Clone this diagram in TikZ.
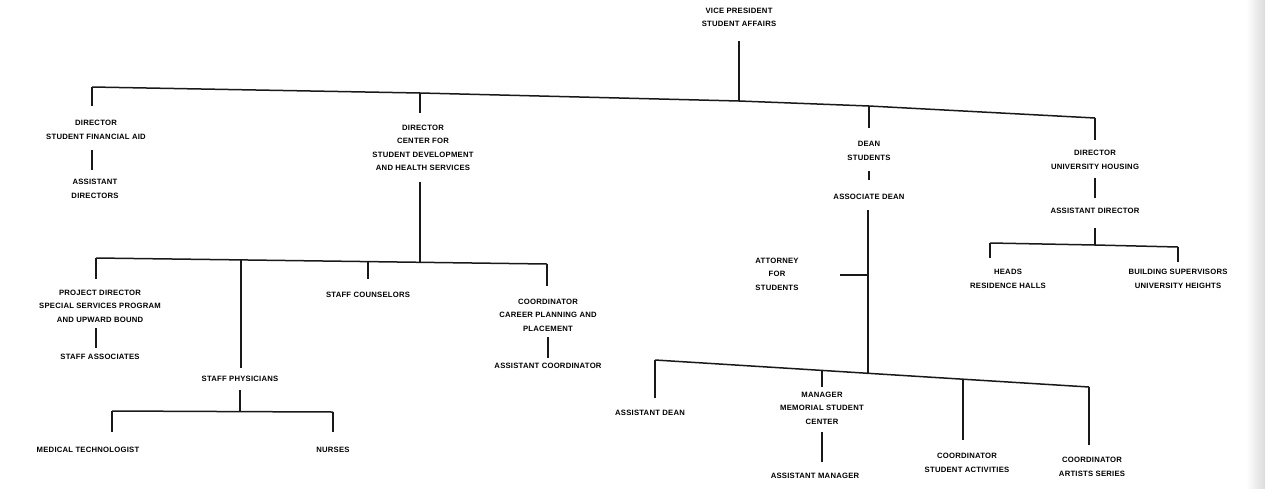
\documentclass[tikz,border=0pt]{standalone}
\usepackage{fontspec}
\setmainfont{Liberation Sans}
\newfontfamily\orgfont[LetterSpace=3]{Liberation Sans}
\begin{document}
\begin{tikzpicture}[x=1pt,y=-1pt,
  lbl/.style={font=\orgfont\bfseries\fontsize{7.7}{13.5}\selectfont, align=center, inner sep=0pt, text=black},
  wire/.style={line width=1.5pt, draw=black!90}]
\useasboundingbox (0,0) rectangle (1265,488);
\fill[white] (0,0) rectangle (1265,488);
% darkened paper edge on the right
\shade[left color=white, right color=black!14] (1246,0) rectangle (1265,488);

% ---------- top level ----------
\node[lbl] (vp) at (739,17.5) {VICE PRESIDENT\\STUDENT AFFAIRS};
\coordinate (tA) at (92,87);
\coordinate (tB) at (420,93);
\coordinate (tV) at (739,101);
\coordinate (tD) at (869,106);
\coordinate (tH) at (1095,118);
\draw[wire] (tA) -- (tB) -- (tV) -- (tD) -- (tH);
\draw[wire, shorten >=14pt] (tV) -- (tV |- vp.south);

% ---------- financial aid ----------
\node[lbl] (finaid) at (96,130) {DIRECTOR\\STUDENT FINANCIAL AID};
\node[lbl] (asstdirs) at (95,189) {ASSISTANT\\DIRECTORS};
\draw[wire, shorten >=14.5pt] (tA) -- (tA |- finaid.north);
\draw[wire, shorten <=10.5pt, shorten >=9.5pt] (finaid.south -| tA) -- (asstdirs.north -| tA);

% ---------- student development ----------
\node[lbl] (devel) at (423,148) {DIRECTOR\\CENTER FOR\\STUDENT DEVELOPMENT\\AND HEALTH SERVICES};
\draw[wire, shorten >=11.5pt] (tB) -- (tB |- devel.north);
\coordinate (mA) at (96,258);
\coordinate (mP) at (241,259.9);
\coordinate (mC) at (368,261.6);
\coordinate (mB) at (420,262.3);
\coordinate (mK) at (547,264);
\draw[wire] (mA) -- (mP) -- (mC) -- (mB) -- (mK);
\draw[wire, shorten <=10.5pt] (devel.south -| mB) -- (mB);

\node[lbl] (project) at (100,306) {PROJECT DIRECTOR\\SPECIAL SERVICES PROGRAM\\AND UPWARD BOUND};
\node[lbl] (staffassoc) at (100,357) {STAFF ASSOCIATES};
\draw[wire, shorten >=10.5pt] (mA) -- (mA |- project.north);
\draw[wire, shorten <=5.5pt, shorten >=6.5pt] (project.south -| mA) -- (staffassoc.north -| mA);

\node[lbl] (physicians) at (240,379) {STAFF PHYSICIANS};
\draw[wire, shorten >=8.5pt] (mP) -- (mP |- physicians.north);
\coordinate (pA) at (112,411);
\coordinate (pP) at (240,411.6);
\coordinate (pB) at (333,412);
\draw[wire] (pA) -- (pP) -- (pB);
\draw[wire, shorten <=8.5pt] (physicians.south -| pP) -- (pP);
\node[lbl] (medtech) at (88,450) {MEDICAL TECHNOLOGIST};
\node[lbl] (nurses) at (333,450) {NURSES};
\draw[wire, shorten >=15.5pt] (pA) -- (pA |- medtech.north);
\draw[wire, shorten >=15.5pt] (pB) -- (pB |- nurses.north);

\node[lbl] (counsel) at (368,295) {STAFF COUNSELORS};
\draw[wire, shorten >=13.5pt] (mC) -- (mC |- counsel.north);

\node[lbl] (career) at (548,315) {COORDINATOR\\CAREER PLANNING AND\\PLACEMENT};
\node[lbl] (asstcoord) at (548,366) {ASSISTANT COORDINATOR};
\draw[wire, shorten >=12.5pt] (mK) -- (mK |- career.north);
\draw[wire, shorten <=5.5pt, shorten >=5.5pt] (career.south) -- (asstcoord.north);

% ---------- dean of students ----------
\node[lbl] (dean) at (869,151) {DEAN\\STUDENTS};
\node[lbl] (assocdean) at (869,197) {ASSOCIATE DEAN};
\draw[wire, shorten >=13.5pt] (tD) -- (tD |- dean.north);
\draw[wire, shorten <=10.5pt, shorten >=14.5pt] (dean.south) -- (assocdean.north);

\coordinate (dA) at (655,360);
\coordinate (dM) at (822,370.4);
\coordinate (dL) at (868,373.3);
\coordinate (dS) at (963,379.2);
\coordinate (dR) at (1089,387);
\draw[wire] (dA) -- (dM) -- (dL) -- (dS) -- (dR);
\draw[wire, shorten <=10.5pt] (assocdean.south -| dL) -- (dL);

\node[lbl] (attorney) at (777,274) {ATTORNEY\\FOR\\STUDENTS};
\coordinate (attJ) at (868,275);
\coordinate (attL) at (840,275);
\draw[wire] (attJ) -- (attL);

\node[lbl] (asstdean) at (650,413) {ASSISTANT DEAN};
\draw[wire, shorten >=12.5pt] (dA) -- (dA |- asstdean.north);

\node[lbl] (manager) at (822,408) {MANAGER\\MEMORIAL STUDENT\\CENTER};
\node[lbl] (asstmgr) at (815,476) {ASSISTANT MANAGER};
\draw[wire, shorten >=5pt] (dM) -- (dM |- manager.north);
\draw[wire, shorten <=8pt, shorten >=11.5pt] (manager.south) -- (manager.south |- asstmgr.north);

\node[lbl] (activities) at (967,463) {COORDINATOR\\STUDENT ACTIVITIES};
\draw[wire, shorten >=13.5pt] (dS) -- (dS |- activities.north);
\node[lbl] (artists) at (1092,467) {COORDINATOR\\ARTISTS SERIES};
\draw[wire, shorten >=12.5pt] (dR) -- (dR |- artists.north);

% ---------- housing ----------
\node[lbl] (housing) at (1095,160) {DIRECTOR\\UNIVERSITY HOUSING};
\node[lbl] (asstdir) at (1095,211) {ASSISTANT DIRECTOR};
\draw[wire, shorten >=10.5pt] (tH) -- (tH |- housing.north);
\draw[wire, shorten <=8.5pt, shorten >=10.5pt] (housing.south) -- (asstdir.north);
\coordinate (hA) at (990,243);
\coordinate (hM) at (1095,245);
\coordinate (hB) at (1178,247);
\draw[wire] (hA) -- (hM) -- (hB);
\draw[wire, shorten <=14.5pt] (asstdir.south) -- (hM);
\node[lbl] (heads) at (1008,279) {HEADS\\RESIDENCE HALLS};
\node[lbl] (bldg) at (1178,279) {BUILDING SUPERVISORS\\UNIVERSITY HEIGHTS};
\draw[wire, shorten >=11.5pt] (hA) -- (hA |- heads.north);
\draw[wire, shorten >=7.5pt] (hB) -- (hB |- bldg.north);
\end{tikzpicture}
\end{document}
